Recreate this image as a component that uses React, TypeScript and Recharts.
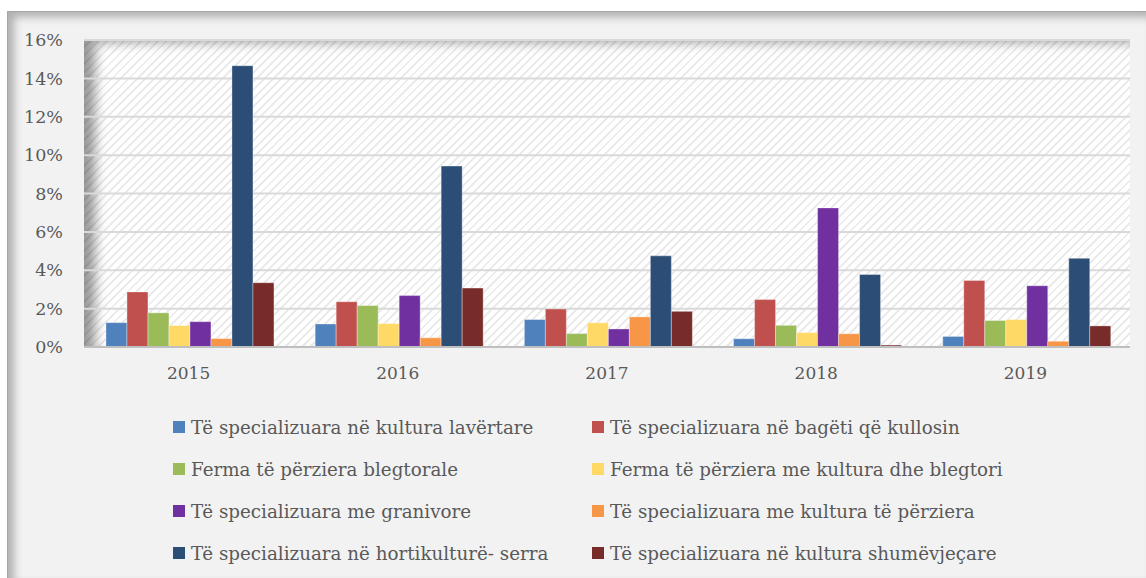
import { BarChart, Bar, XAxis, YAxis, CartesianGrid } from "recharts";

const years = ["2015", "2016", "2017", "2018", "2019"];

const seriesNames = [
  "Të specializuara në kultura lavërtare",
  "Të specializuara në bagëti që kullosin",
  "Ferma të përziera blegtorale",
  "Ferma të përziera me kultura dhe blegtori",
  "Të specializuara me granivore",
  "Të specializuara me kultura të përziera",
  "Të specializuara në hortikulturë- serra",
  "Të specializuara në kultura shumëvjeçare",
];

const seriesColors = ["#4f81bd", "#c0504d", "#9bbb59", "#ffd966", "#7030a0", "#f79646", "#2c4d75", "#772c2a"];

// values in %, one array per series, in year order
const lavertare = [1.27, 1.2, 1.43, 0.43, 0.55];
const bageti = [2.87, 2.36, 1.98, 2.47, 3.47];
const blegtorale = [1.78, 2.16, 0.7, 1.13, 1.38];
const kulturaBlegtori = [1.12, 1.22, 1.26, 0.75, 1.43];
const granivore = [1.32, 2.68, 0.94, 7.25, 3.19];
const kulturaPerziera = [0.44, 0.48, 1.57, 0.69, 0.3];
const serra = [14.66, 9.43, 4.75, 3.78, 4.62];
const shumevjecare = [3.35, 3.07, 1.86, 0.1, 1.1];

const allSeries = [lavertare, bageti, blegtorale, kulturaBlegtori, granivore, kulturaPerziera, serra, shumevjecare];

const yTicks = [0, 2, 4, 6, 8, 10, 12, 14, 16];

const data = years.map((year, i) => {
  const row: any = { year };
  allSeries.forEach((s, k) => {
    row["s" + k] = s[i];
  });
  return row;
});

const font = "DejaVu Serif";

export default function App() {
  return (
    <div
      style={{
        position: "fixed",
        left: 7,
        top: 11,
        width: 1139,
        height: 567,
        background: "#f2f2f2",
        borderTop: "1px solid #a6a6a6",
        borderLeft: "1px solid #a6a6a6",
        boxShadow: "inset 6px 5px 8px rgba(0,0,0,0.28)",
        fontFamily: font,
        overflow: "hidden",
      }}
    >
      {/* hatched plot background */}
      <div
        style={{
          position: "absolute",
          left: 76,
          top: 28,
          width: 1046,
          height: 307,
          background: "repeating-linear-gradient(135deg, #ffffff 0px, #ffffff 4px, #ebebeb 4px, #ebebeb 6px)",
          boxShadow: "inset 14px 5px 12px -3px rgba(0,0,0,0.4)",
        }}
      />
      <div style={{ position: "absolute", left: -1, top: -1 }}>
        <BarChart
          width={1139}
          height={400}
          data={data}
          margin={{ top: 29, right: 16, left: 0, bottom: 24 }}
          barCategoryGap="10.5%"
          barGap={0}
        >
          <CartesianGrid vertical={false} stroke="#d9d9d9" strokeWidth={2} />
          <XAxis
            dataKey="year"
            height={40}
            tickLine={false}
            tickSize={0}
            tickMargin={20}
            axisLine={{ stroke: "#bfbfbf", strokeWidth: 2 }}
            tick={{ fill: "#595959", fontSize: 17, fontFamily: font }}
          />
          <YAxis
            width={77}
            domain={[0, 16]}
            ticks={yTicks}
            interval={0}
            tickFormatter={(v: number) => v + "%"}
            axisLine={false}
            tickLine={false}
            tickSize={0}
            tickMargin={21}
            tick={{ fill: "#595959", fontSize: 17.5, fontFamily: font }}
          />
          {seriesNames.map((name, k) => (
            <Bar
              key={name}
              dataKey={"s" + k}
              name={name}
              fill={seriesColors[k]}
              stroke="#ffffff"
              strokeOpacity={0.35}
              strokeWidth={1}
              isAnimationActive={false}
            />
          ))}
        </BarChart>
      </div>
      {/* legend */}
      <div
        style={{
          position: "absolute",
          left: 165,
          top: 394,
          width: 840,
          display: "grid",
          gridTemplateColumns: "419px 421px",
          color: "#595959",
          fontSize: 18.3,
        }}
      >
        {seriesNames.map((name, k) => (
          <div key={name} style={{ display: "flex", alignItems: "center", height: 42, whiteSpace: "nowrap" }}>
            <span
              style={{
                display: "inline-block",
                width: 12,
                height: 12,
                background: seriesColors[k],
                marginRight: 6,
                flexShrink: 0,
              }}
            />
            {name}
          </div>
        ))}
      </div>
    </div>
  );
}
